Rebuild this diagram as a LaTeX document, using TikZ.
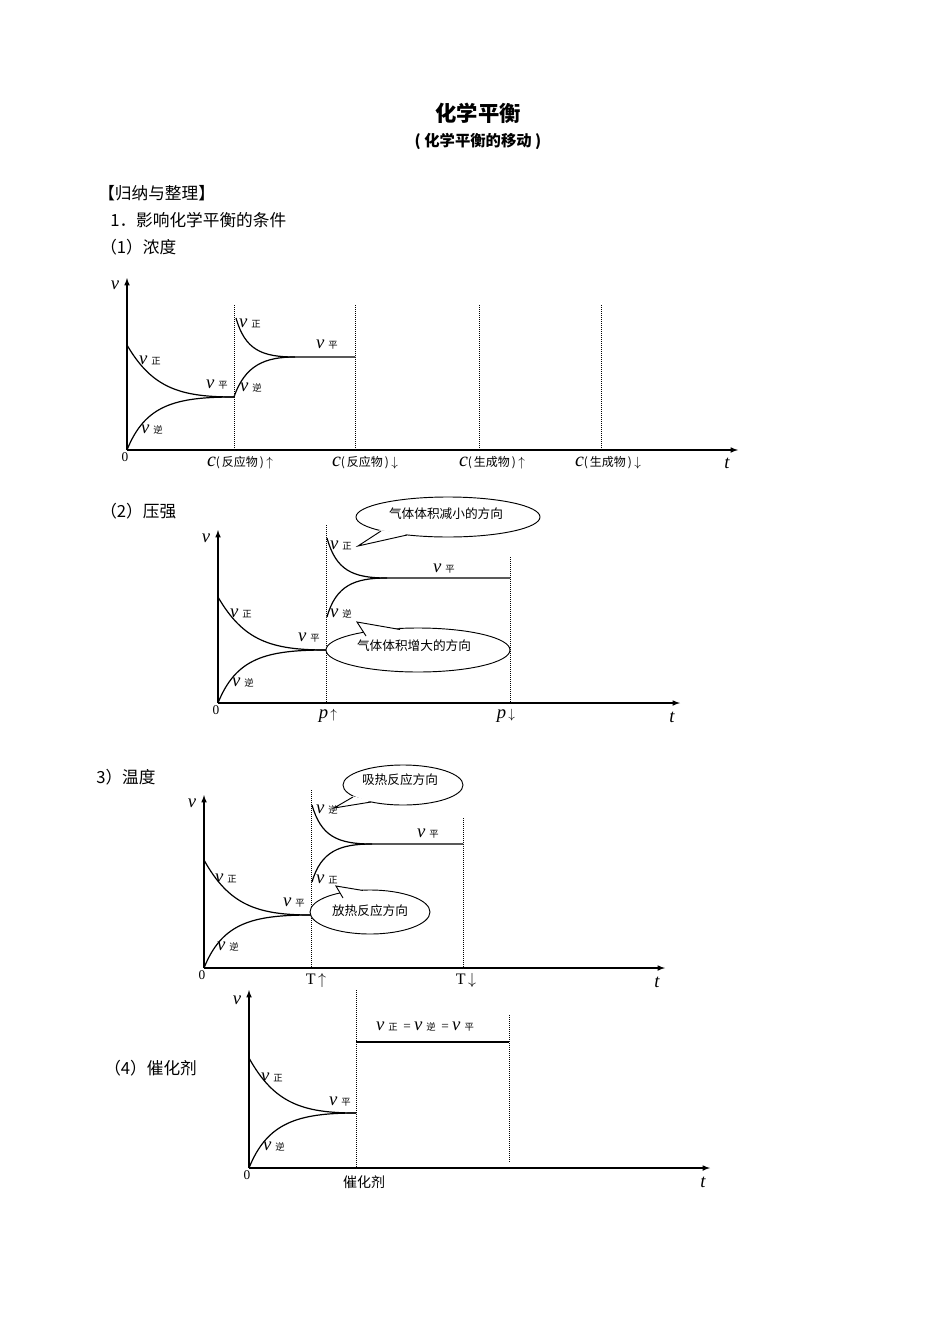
\documentclass[tikz,border=0pt]{standalone}
\usepackage{fontspec}
\setmainfont{Liberation Serif}
\newfontfamily\cjk{Noto Sans CJK SC}
\newcommand\vl[1]{{\fontsize{14}{14}\selectfont\itshape v}\hspace{3pt}{\fontsize{7}{7}\cjk #1}}
\tikzset{ax/.style={line width=0.9pt,-latex},dot/.style={densely dotted,line width=0.5pt},cv/.style={line width=0.9pt},
lb/.style={inner sep=0pt,font=\fontsize{10}{10}\selectfont},
cjkl/.style={inner sep=0pt,font=\cjk\fontsize{12.5}{13}\selectfont},
bub/.style={draw,line width=0.7pt,fill=white}}
\begin{document}
\begin{tikzpicture}[x=0.75pt,y=-0.75pt]
\useasboundingbox (0,0) rectangle (950,1317);
\node[inner sep=0pt,font=\cjk\bfseries\fontsize{16}{16}\selectfont] (title) at (478,113) {化学平衡};
\node[inner sep=0pt,font=\cjk\bfseries\fontsize{11.5}{11.5}\selectfont] (sub) at (478,141) {( 化学平衡的移动 )};
\node[cjkl,anchor=west] (h1) at (98,193) {【归纳与整理】};
\node[cjkl,anchor=west] (h2) at (110,220) {1．影响化学平衡的条件};
\node[cjkl,anchor=west] (h3) at (100,247) {（1）浓度};
\node[cjkl,anchor=west] (h4) at (100,511) {（2）压强};
\node[cjkl,anchor=west] (h5) at (96,777) {3）温度};
\node[cjkl,anchor=west] (h6) at (104,1068) {（4）催化剂};

% chart 1
\coordinate (o1) at (127,450);
\draw[ax] (o1) -- (127,278);
\draw[ax] (o1) -- (738,450);
\foreach \x/\t in {234/305,355/305,479/305,601/305} \draw[dot] (\x,\t) -- (\x,450);
\draw[cv] (127,345) .. controls (152,388) and (180,397) .. (234,397);
\draw[cv] (127,450) .. controls (145,405) and (175,397) .. (234,397);
\draw[cv] (236,318) .. controls (245,350) and (262,357) .. (295,357) -- (355,357);
\draw[cv] (234,397) .. controls (245,365) and (265,357) .. (295,357);
\node[lb] (a0) at (125,457) {0};
\node[lb,font=\itshape\fontsize{14}{14}\selectfont] (av) at (115,285) {v};
\node[lb,font=\itshape\fontsize{14}{14}\selectfont] (at) at (727,463) {t};
\node[lb] (a1) at (150,360) {\vl{正}};
\node[lb] (a2) at (152,430) {\vl{逆}};
\node[lb] (a3) at (217,385) {\vl{平}};
\node[lb] (a4) at (251,388) {\vl{逆}};
\node[lb] (a5) at (250,323) {\vl{正}};
\node[lb] (a6) at (327,345) {\vl{平}};
\foreach \x/\s/\r in {240/反应物/$\uparrow$,365/反应物/$\downarrow$,492/生成物/$\uparrow$,608/生成物/$\downarrow$}
  \node[lb] at (\x,463) {{\fontsize{15}{15}\selectfont\itshape c}{\cjk\fontsize{9}{9}\selectfont(\,\s\,)}\,\r};

% chart 2
\coordinate (o2) at (218,703);
\draw[ax] (o2) -- (218,530);
\draw[ax] (o2) -- (680,703);
\draw[dot] (326,525) -- (326,703);
\draw[dot] (510,557) -- (510,703);
\draw[cv] (218,597) .. controls (243,640) and (270,650) .. (326,650);
\draw[cv] (218,703) .. controls (236,658) and (266,650) .. (326,650);
\draw[cv] (327,538) .. controls (336,570) and (352,578) .. (387,578) -- (510,578);
\draw[cv] (327,617) .. controls (336,585) and (355,578) .. (387,578);
\node[lb] (b0) at (216,710) {0};
\node[lb,font=\itshape\fontsize{14}{14}\selectfont] (bv) at (206,538) {v};
\node[lb,font=\itshape\fontsize{14}{14}\selectfont] (bt) at (672,717) {t};
\node[lb] (b1) at (241,613) {\vl{正}};
\node[lb] (b2) at (243,683) {\vl{逆}};
\node[lb] (b3) at (309,638) {\vl{平}};
\node[lb] (b4) at (341,545) {\vl{正}};
\node[lb] (b5) at (341,614) {\vl{逆}};
\node[lb] (b6) at (444,569) {\vl{平}};
\node[lb] (b7) at (328,716) {{\fontsize{14}{14}\selectfont\itshape p}\,$\uparrow$};
\node[lb] (b8) at (506,716) {{\fontsize{14}{14}\selectfont\itshape p}\,$\downarrow$};
\draw[bub] (448,517) ellipse (92 and 20);
\fill[white] (380,530) -- (358,546) -- (408,534) -- cycle;
\draw[line width=0.7pt] (381,531) -- (358,546) -- (407,535);
\node[cjkl,font=\cjk\fontsize{9.5}{10}\selectfont] (c1) at (446,514) {气体体积减小的方向};
\draw[bub] (418,650) ellipse (92 and 22);
\fill[white] (365,635) -- (357,622) -- (400,629) -- cycle;
\draw[line width=0.7pt] (366,636) -- (357,622) -- (400,629.5);
\node[cjkl,font=\cjk\fontsize{9.5}{10}\selectfont] (c2) at (414,646) {气体体积增大的方向};

% chart 3
\coordinate (o3) at (204,968);
\draw[ax] (o3) -- (204,795);
\draw[ax] (o3) -- (665,968);
\draw[dot] (311,790) -- (311,968);
\draw[dot] (463,818) -- (463,968);
\draw[cv] (204,860) .. controls (229,905) and (257,915) .. (311,915);
\draw[cv] (204,968) .. controls (222,923) and (252,915) .. (311,915);
\draw[cv] (312,805) .. controls (321,836) and (337,844) .. (372,844) -- (463,844);
\draw[cv] (312,882) .. controls (321,851) and (340,844) .. (372,844);
\node[lb] (d0) at (202,975) {0};
\node[lb,font=\itshape\fontsize{14}{14}\selectfont] (dv) at (192,803) {v};
\node[lb,font=\itshape\fontsize{14}{14}\selectfont] (dt) at (657,982) {t};
\node[lb] (d1) at (226,878) {\vl{正}};
\node[lb] (d2) at (228,947) {\vl{逆}};
\node[lb] (d3) at (294,903) {\vl{平}};
\node[lb] (d4) at (327,810) {\vl{逆}};
\node[lb] (d5) at (327,879) {\vl{正}};
\node[lb] (d6) at (428,834) {\vl{平}};
\node[lb,font=\fontsize{12}{12}\selectfont] (d7) at (316,980) {T\,$\uparrow$};
\node[lb,font=\fontsize{12}{12}\selectfont] (d8) at (466,980) {T\,$\downarrow$};
\draw[bub] (403,785) ellipse (60 and 20);
\fill[white] (352,796) -- (334,808) -- (372,801) -- cycle;
\draw[line width=0.7pt] (353,797) -- (334,808) -- (371,802);
\node[cjkl,font=\cjk\fontsize{9.5}{10}\selectfont] (e1) at (400,780) {吸热反应方向};
\draw[bub] (370,912) ellipse (60 and 22);
\fill[white] (342,897) -- (336,886) -- (364,890) -- cycle;
\draw[line width=0.7pt] (343,898) -- (336,886) -- (363,890.5);
\node[cjkl,font=\cjk\fontsize{9.5}{10}\selectfont] (e2) at (370,911) {放热反应方向};

% chart 4
\coordinate (o4) at (249,1168);
\draw[ax] (o4) -- (249,990);
\draw[ax] (o4) -- (710,1168);
\draw[dot] (356,990) -- (356,1168);
\draw[dot] (509,1015) -- (509,1162);
\draw[cv] (249,1058) .. controls (274,1103) and (302,1113) .. (356,1113);
\draw[cv] (249,1168) .. controls (267,1123) and (297,1113) .. (356,1113);
\draw[cv] (356,1042) -- (509,1042);
\node[lb] (f0) at (247,1175) {0};
\node[lb,font=\itshape\fontsize{14}{14}\selectfont] (fv) at (237,1000) {v};
\node[lb,font=\itshape\fontsize{14}{14}\selectfont] (ft) at (703,1182) {t};
\node[lb] (f1) at (272,1077) {\vl{正}};
\node[lb] (f2) at (274,1147) {\vl{逆}};
\node[lb] (f3) at (340,1102) {\vl{平}};
\node[lb] (f4) at (425,1027) {\vl{正}\, = \vl{逆}\,\ = \vl{平}};
\node[cjkl,font=\cjk\fontsize{10.5}{10.5}\selectfont] (f5) at (364,1182) {催化剂};
\end{tikzpicture}
\end{document}
